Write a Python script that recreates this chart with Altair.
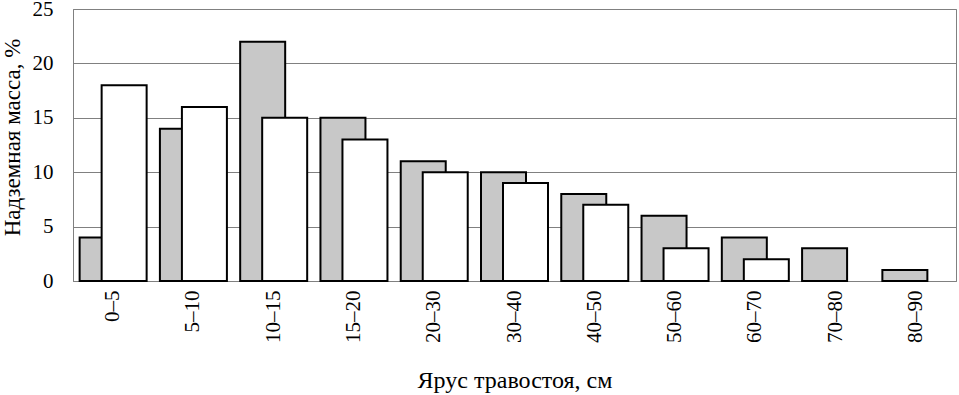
import altair as alt
import pandas as pd

categories = ["0–5", "5–10", "10–15", "15–20", "20–30", "30–40", "40–50", "50–60", "60–70", "70–80", "80–90"]
series_a = [4, 14, 22, 15, 11, 10, 8, 6, 4, 3, 1]
series_b = [18, 16, 15, 13, 10, 9, 7, 3, 2, None, None]

df_a = pd.DataFrame({"cat": categories, "val": series_a})
df_b = pd.DataFrame({"cat": categories, "val": series_b}).dropna()

FONT = "Liberation Serif"
common = dict(labelFont=FONT, titleFont=FONT, labelFontSize=21,
              labelColor="black", titleColor="black", titleFontWeight="normal",
              domainColor="#808080", domainWidth=1, ticks=False)

x_enc = alt.X("cat:N", sort=categories, scale=alt.Scale(domain=categories, paddingInner=0, paddingOuter=0),
              axis=alt.Axis(title="Ярус травостоя, см", labelAngle=-90, labelPadding=9,
                            titlePadding=26, titleFontSize=24, grid=False, **common))
y_enc = alt.Y("val:Q", scale=alt.Scale(domain=[0, 25]),
              axis=alt.Axis(title="Надземная масса, %", values=[0, 5, 10, 15, 20, 25],
                            labelPadding=20, titlePadding=8, titleFontSize=23, titleY=128,
                            gridColor="#808080", gridOpacity=1, gridWidth=1, **common))

bars_a = alt.Chart(df_a).mark_bar(width=45, xOffset=-11, fill="#c8c8c8", stroke="black", strokeWidth=2).encode(
    x=x_enc, y=y_enc)
bars_b = alt.Chart(df_b).mark_bar(width=45, xOffset=11, fill="white", stroke="black", strokeWidth=2).encode(
    x=x_enc, y=y_enc)

chart = alt.layer(bars_a, bars_b).properties(
    width=883, height=272,
    autosize=alt.AutoSizeParams(type="none"),
    padding={"left": 73, "top": 9, "right": 3, "bottom": 114},
    background="white",
).configure_view(stroke="#808080", strokeWidth=1)

chart.save("out.html", embed_options={"renderer": "svg", "actions": False})
